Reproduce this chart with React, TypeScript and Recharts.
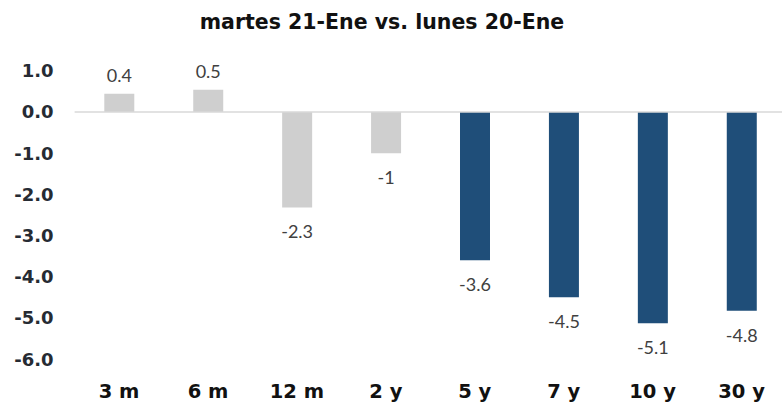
import React from 'react';
import { BarChart, Bar, XAxis, YAxis, ReferenceLine, LabelList, Cell } from 'recharts';

const categories = ['3 m', '6 m', '12 m', '2 y', '5 y', '7 y', '10 y', '30 y'];
const values = [0.44, 0.54, -2.32, -1.0, -3.6, -4.5, -5.13, -4.83];
const valueLabels = ['0.4', '0.5', '-2.3', '-1', '-3.6', '-4.5', '-5.1', '-4.8'];
const barColors = ['#cfcfcf', '#cfcfcf', '#cfcfcf', '#cfcfcf', '#1f4e79', '#1f4e79', '#1f4e79', '#1f4e79'];
const yTicks = [1, 0, -1, -2, -3, -4, -5, -6];
const title = 'martes 21-Ene vs. lunes 20-Ene';

const data = categories.map((c, i) => ({ name: c, value: values[i], label: valueLabels[i] }));

const FONT = '"DejaVu Sans", sans-serif';

const YTick = (props: any) => {
  const { x, y, payload } = props;
  return (
    <text x={x} y={y} textAnchor="end" dominantBaseline="central" fontFamily={FONT} fontWeight={700} fontSize={18} fill="#262b33">
      {payload.value.toFixed(1)}
    </text>
  );
};

const XTick = (props: any) => {
  const { x, payload } = props;
  return (
    <text x={x} y={391} textAnchor="middle" dominantBaseline="central" fontFamily={FONT} fontWeight={700} fontSize={19.5} fill="#111">
      {payload.value}
    </text>
  );
};

const ValueLabel = (props: any) => {
  const { x, y, width, height, index } = props;
  const v = values[index];
  const cx = x + width / 2;
  const top = Math.min(y, y + height);
  const bottom = Math.max(y, y + height);
  const ty = v >= 0 ? top - 19 : bottom + 24;
  return (
    <text x={cx} y={ty} textAnchor="middle" dominantBaseline="central" fontFamily='"Lato", sans-serif' fontWeight={400} fontSize={18} fill="#404040">
      {valueLabels[index]}
    </text>
  );
};

export default function App() {
  return (
    <div style={{ position: 'absolute', left: 0, top: 0, width: 782, height: 405, overflow: 'hidden', background: '#fff' }}>
      <div style={{ position: 'absolute', left: 0, top: 8, width: 764, textAlign: 'center', fontFamily: FONT, fontWeight: 700, fontSize: 20.5, color: '#111', lineHeight: '28px' }}>
        {title}
      </div>
      <div style={{ position: 'absolute', left: 0, top: 0 }}>
        <BarChart width={786} height={405} data={data} margin={{ top: 70.8, right: 0, bottom: 0, left: 0 }} barCategoryGap="33.4%">
          <XAxis dataKey="name" height={46} axisLine={false} tickLine={false} tick={<XTick />} interval={0} />
          <YAxis width={74.6} domain={[-6, 1]} ticks={yTicks} axisLine={false} tickLine={false} tickSize={0} tickMargin={21} tick={<YTick />} interval={0} />
          <ReferenceLine y={0} stroke="#d9d9d9" strokeWidth={1.5} />
          <Bar dataKey="value" isAnimationActive={false}>
            {data.map((d, i) => (
              <Cell key={i} fill={barColors[i]} />
            ))}
            <LabelList dataKey="label" content={<ValueLabel />} />
          </Bar>
        </BarChart>
      </div>
    </div>
  );
}
